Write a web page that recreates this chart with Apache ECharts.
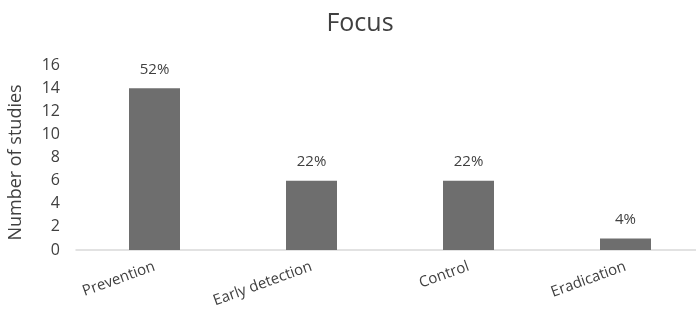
<!DOCTYPE html>
<html>
<head>
<meta charset="utf-8">
<script src="https://cdn.jsdelivr.net/npm/echarts@6/dist/echarts.min.js"></script>
<style>
  html, body { margin: 0; padding: 0; background: #fff; }
  #chart { width: 696px; height: 332px; }
</style>
</head>
<body>
<div id="chart"></div>
<script>
// Study focus categories and counts
const categories = ['Prevention', 'Early detection', 'Control', 'Eradication'];
const studyCounts = [14, 6, 6, 1];
const shareLabels = ['52%', '22%', '22%', '4%'];
const yTicks = [0, 2, 4, 6, 8, 10, 12, 14, 16];

const font = '"Open Sans", "Liberation Sans", sans-serif';
const chart = echarts.init(document.getElementById('chart'), null, { renderer: 'canvas' });

chart.setOption({
  animation: false,
  title: {
    text: 'Focus',
    left: 355,
    top: 6,
    textAlign: 'center',
    textStyle: { fontFamily: font, fontSize: 25, fontWeight: 'normal', color: '#404040' }
  },
  // plot area runs slightly past the right edge of the canvas
  grid: { left: 76, top: 65, width: 628, bottom: 82, outerBoundsMode: 'none', containLabel: false },
  xAxis: {
    type: 'category',
    data: categories,
    axisLine: { lineStyle: { color: '#d9d9d9', width: 1.5 } },
    axisTick: { show: false },
    axisLabel: {
      rotate: 20,
      margin: 16,
      interval: 0,
      fontFamily: font,
      fontSize: 15,
      color: '#404040'
    }
  },
  yAxis: {
    type: 'value',
    min: yTicks[0],
    max: yTicks[yTicks.length - 1],
    interval: 2,
    name: 'Number of studies',
    nameLocation: 'middle',
    nameGap: 51,
    nameTextStyle: { fontFamily: font, fontSize: 18, color: '#404040', padding: [0, 10, 0, 0] },
    axisLine: { show: false },
    axisTick: { show: false },
    splitLine: { show: false },
    axisLabel: { margin: 16, fontFamily: font, fontSize: 16, color: '#404040' }
  },
  series: [{
    type: 'bar',
    data: studyCounts,
    barWidth: 51,
    itemStyle: { color: '#6e6e6e' },
    label: {
      show: true,
      position: 'top',
      distance: 11,
      formatter: p => shareLabels[p.dataIndex],
      fontFamily: font,
      fontSize: 15,
      color: '#404040'
    }
  }]
});
</script>
</body>
</html>
